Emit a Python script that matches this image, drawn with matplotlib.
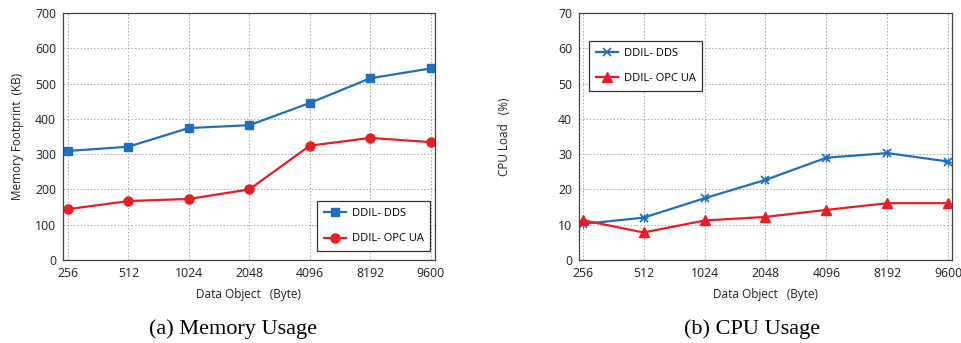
"""Memory and CPU usage of DDIL-DDS vs DDIL-OPC UA."""

import matplotlib.pyplot as plt

sizes = ["256", "512", "1024", "2048", "4096", "8192", "9600"]

mem_dds = [309, 321, 374, 382, 445, 515, 543]
mem_opc = [144, 167, 173, 200, 324, 346, 334]

cpu_dds = [10.2, 12.0, 17.5, 22.7, 29.0, 30.3, 27.9]
cpu_opc = [11.3, 7.8, 11.2, 12.2, 14.2, 16.1, 16.1]

BLUE = "#1f6fbd"
RED = "#ea1c24"

plt.rcParams["font.family"] = ["Open Sans", "DejaVu Sans"]

fig = plt.figure(figsize=(9.62, 3.43), dpi=100)
ax1 = fig.add_axes([63 / 962, 1 - 260 / 343, 372 / 962, 247 / 343])
ax2 = fig.add_axes([579 / 962, 1 - 260 / 343, 373 / 962, 247 / 343])

x = list(range(len(sizes)))


def style(ax, ymax, step, xlim):
    ax.set_xlim(*xlim)
    ax.set_ylim(0, ymax)
    ax.set_yticks(range(0, ymax + 1, step))
    ax.set_xticks(x)
    ax.set_xticklabels(sizes)
    ax.grid(True, color="#a8a8a8", linestyle=(0, (1.5, 2)), linewidth=0.7)
    ax.tick_params(length=0, labelsize=8.8, colors="#222222", pad=5)
    for sp in ax.spines.values():
        sp.set_color("#444444")
        sp.set_linewidth(0.9)
    ax.set_xlabel("Data Object   (Byte)", fontsize=8.5, color="#222222", labelpad=6)


def legend(ax, **kw):
    leg = ax.legend(fontsize=8, fancybox=False, edgecolor="#333333", framealpha=1,
                    borderpad=0.6, labelspacing=1.3, handlelength=2.0,
                    handletextpad=0.5, borderaxespad=0, **kw)
    leg.get_frame().set_linewidth(0.9)


ax1.plot(x, mem_dds, color=BLUE, marker="s", markersize=6, linewidth=1.6, label="DDIL- DDS")
ax1.plot(x, mem_opc, color=RED, marker="o", markersize=6.5, linewidth=1.6, label="DDIL- OPC UA")
style(ax1, 700, 100, (-0.08, 6.07))
ax1.set_ylabel("Memory Footprint  (KB)", fontsize=8.5, color="#222222", labelpad=8)
legend(ax1, loc="lower right", bbox_to_anchor=(0.987, 0.036))

ax2.plot(x, cpu_dds, color=BLUE, marker="x", markersize=6, markeredgewidth=1.2,
         linewidth=1.6, label="DDIL- DDS")
ax2.plot(x, cpu_dds, color=BLUE, marker="+", markersize=6, markeredgewidth=1.0,
         linewidth=0)
ax2.plot(x, cpu_opc, color=RED, marker="^", markersize=7, linewidth=1.6, label="DDIL- OPC UA")
style(ax2, 70, 10, (-0.06, 6.06))
ax2.set_ylabel("CPU Load   (%)", fontsize=8.5, color="#222222", labelpad=34)
legend(ax2, loc="upper left", bbox_to_anchor=(0.027, 0.887))

fig.text(233 / 962, 1 - 329 / 343, "(a) Memory Usage", ha="center", va="center",
         fontsize=16, family="Liberation Serif")
fig.text(752 / 962, 1 - 329 / 343, "(b) CPU Usage", ha="center", va="center",
         fontsize=16, family="Liberation Serif")

fig.savefig("out.png", dpi=100)
